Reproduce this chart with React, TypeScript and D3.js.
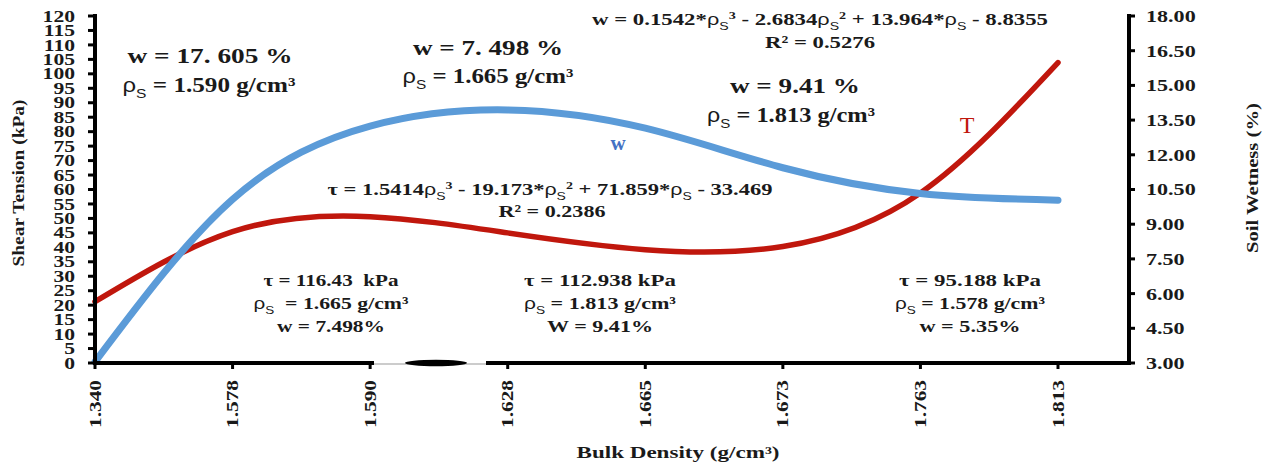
import React from 'react';
import * as d3 from 'd3';

const categories = ['1.340', '1.578', '1.590', '1.628', '1.665', '1.673', '1.763', '1.813'];
const shearTension = [21.2, 45.4, 50.6, 45.0, 39.2, 40.3, 58.8, 103.9];
const soilWetness = [3.05, 10.07, 13.24, 13.94, 13.15, 11.44, 10.33, 10.04];
const leftTicks = [0, 5, 10, 15, 20, 25, 30, 35, 40, 45, 50, 55, 60, 65, 70, 75, 80, 85, 90, 95, 100, 105, 110, 115, 120];
const rightTicks = [3, 4.5, 6, 7.5, 9, 10.5, 12, 13.5, 15, 16.5, 18];

const annotations = [
  { t: 'w = 17. 605 %', x: 210, y: 63, s: 21, w: 165 },
  { t: '{r} = 1.590 g/cm³', x: 209, y: 92, s: 21, w: 173 },
  { t: 'w = 7. 498 %', x: 488, y: 55, s: 21, w: 150 },
  { t: '{r} = 1.665 g/cm³', x: 488, y: 83, s: 21, w: 171 },
  { t: 'w = 9.41 %', x: 795, y: 93, s: 21, w: 130 },
  { t: '{r} = 1.813 g/cm³', x: 791, y: 122, s: 21, w: 168 },
  { t: 'w = 0.1542*{r}^3 - 2.6834{r}^2 + 13.964*{r} - 8.8355', x: 820, y: 25, s: 17, w: 456 },
  { t: 'R² = 0.5276', x: 820, y: 48, s: 17, w: 110 },
  { t: 'τ = 1.5414{r}^3 - 19.173*{r}^2 + 71.859*{r} - 33.469', x: 550, y: 195, s: 17, w: 445 },
  { t: 'R² = 0.2386', x: 552, y: 217, s: 17, w: 107 },
  { t: 'τ = 116.43  kPa', x: 331, y: 286, s: 17, w: 135 },
  { t: '{r}  = 1.665 g/cm³', x: 331, y: 309, s: 17, w: 155 },
  { t: 'w = 7.498%', x: 331, y: 332, s: 17, w: 108 },
  { t: 'τ = 112.938 kPa', x: 600, y: 286, s: 17, w: 152 },
  { t: '{r} = 1.813 g/cm³', x: 600, y: 309, s: 17, w: 152 },
  { t: 'W = 9.41%', x: 600, y: 332, s: 17, w: 106 },
  { t: 'τ = 95.188 kPa', x: 970, y: 286, s: 17, w: 142 },
  { t: '{r} = 1.578 g/cm³', x: 970, y: 309, s: 17, w: 150 },
  { t: 'w = 5.35%', x: 970, y: 332, s: 17, w: 101 },
];

const serif = "'Liberation Serif', 'Times New Roman', serif";
const sans = "'Liberation Sans', Arial, sans-serif";
const RED = '#c0170d';
const BLUE = '#5b9bd8';

type Seg = { k: string; t: string };
function parse(s: string): Seg[] {
  const out: Seg[] = [];
  let buf = '';
  let i = 0;
  const flush = () => { if (buf) { out.push({ k: 'n', t: buf }); buf = ''; } };
  while (i < s.length) {
    if (s.startsWith('{r}', i)) {
      flush();
      out.push({ k: 'rho', t: 'ρ' });
      out.push({ k: 'sub', t: 'S' });
      i += 3;
    } else if (s[i] === '^') {
      flush();
      out.push({ k: 'sup', t: s[i + 1] });
      i += 2;
    } else {
      buf += s[i];
      i++;
    }
  }
  flush();
  return out;
}

function Rich({ x, y, t, s, w, fill = '#1a1a1a' }: any) {
  const segs = parse(t);
  let shift = 0;
  const kids = segs.map((g, i) => {
    let target = 0;
    let fs = s;
    let fam = serif;
    let fw: any = 'bold';
    if (g.k === 'sub') { target = 0.28 * s; fs = s * 0.62; fam = sans; fw = 'normal'; }
    else if (g.k === 'sup') { target = -0.38 * s; fs = s * 0.62; }
    else if (g.k === 'rho') { fam = sans; fw = 'normal'; fs = s * 0.95; }
    const dy = target - shift;
    shift = target;
    return (
      <tspan key={i} dy={dy} fontSize={fs} fontFamily={fam} fontWeight={fw}>{g.t}</tspan>
    );
  });
  return (
    <text x={x} y={y} textAnchor="middle" fill={fill} textLength={w} lengthAdjust="spacingAndGlyphs"
      style={{ whiteSpace: 'pre' }}>
      {kids}
    </text>
  );
}

export default function App() {
  const W = 1264, H = 467;
  const X0 = 95, X1 = 1058, AXR = 1129, Y0 = 363, Y1 = 16;
  const x = d3.scalePoint<string>().domain(categories).range([X0, X1]);
  const yL = d3.scaleLinear().domain([0, 120]).range([Y0, Y1]);
  const yR = d3.scaleLinear().domain([3, 18]).range([Y0, Y1]);

  const tauLine = d3.line<number>()
    .x((_, i) => x(categories[i]) as number)
    .y(d => yL(d))
    .curve(d3.curveNatural);
  const wLine = d3.line<number>()
    .x((_, i) => x(categories[i]) as number)
    .y(d => yR(d))
    .curve(d3.curveNatural);

  return (
    <svg width={W} height={H} viewBox={`0 0 ${W} ${H}`}
      style={{ position: 'absolute', left: 0, top: 0, background: '#fff', display: 'block' }}>
      <rect x={0} y={0} width={W} height={H} fill="#fff" />

      {/* curves */}
      <path d={tauLine(shearTension) || ''} fill="none" stroke={RED} strokeWidth={5.5} strokeLinecap="round" />
      <path d={wLine(soilWetness) || ''} fill="none" stroke={BLUE} strokeWidth={7} strokeLinecap="round" />

      {/* left axis */}
      <line x1={X0} x2={X0} y1={yL(120) - 2} y2={Y0 + 2} stroke="#000" strokeWidth={4} />
      {leftTicks.map(v => (
        <g key={'lt' + v}>
          <line x1={X0 - 7} x2={X0} y1={yL(v)} y2={yL(v)} stroke="#000" strokeWidth={3} />
          <text transform={`translate(75,${yL(v)}) scale(1.35,1)`} textAnchor="end" dy="0.35em"
            fontFamily={serif} fontWeight="bold" fontSize={16} fill="#1a1a1a">{v}</text>
        </g>
      ))}

      {/* right axis */}
      <line x1={AXR} x2={AXR} y1={yR(18) - 2} y2={Y0 + 2} stroke="#000" strokeWidth={4} />
      {rightTicks.map(v => (
        <g key={'rt' + v}>
          <line x1={AXR} x2={AXR + 6} y1={yR(v)} y2={yR(v)} stroke="#000" strokeWidth={3} />
          <text transform={`translate(1146,${yR(v)}) scale(1.3,1)`} textAnchor="start" dy="0.35em"
            fontFamily={serif} fontWeight="bold" fontSize={17} fill="#1a1a1a">{v.toFixed(2)}</text>
        </g>
      ))}

      {/* x axis */}
      <line x1={X0 - 2} x2={AXR + 2} y1={Y0} y2={Y0} stroke="#000" strokeWidth={4} />
      {categories.map(c => (
        <g key={'xt' + c}>
          <line x1={x(c)} x2={x(c)} y1={Y0} y2={Y0 + 6} stroke="#000" strokeWidth={3} />
          <text transform={`translate(${x(c)},380) rotate(-90)`} textAnchor="end" dominantBaseline="central"
            fontFamily={serif} fontWeight="bold" fontSize={17} fill="#1a1a1a"
            textLength={48} lengthAdjust="spacingAndGlyphs">{c}</text>
        </g>
      ))}
      {/* artifact on the x axis */}
      <rect x={374} y={358} width={112} height={9} fill="#fff" />
      <line x1={374} x2={486} y1={364} y2={364} stroke="#999" strokeWidth={1} />
      <ellipse cx={436} cy={363} rx={31} ry={3.2} fill="#000" />

      {/* axis titles */}
      <text transform="translate(18,183) rotate(-90)" textAnchor="middle" dominantBaseline="central"
        fontFamily={serif} fontWeight="bold" fontSize={16} fill="#1a1a1a"
        textLength={167} lengthAdjust="spacingAndGlyphs">Shear Tension (kPa)</text>
      <text transform="translate(1252,178) rotate(-90)" textAnchor="middle" dominantBaseline="central"
        fontFamily={serif} fontWeight="bold" fontSize={16} fill="#1a1a1a"
        textLength={150} lengthAdjust="spacingAndGlyphs">Soil Wetness (%)</text>
      <text x={678} y={458} textAnchor="middle" fontFamily={serif} fontWeight="bold" fontSize={16}
        fill="#1a1a1a" textLength={203} lengthAdjust="spacingAndGlyphs">Bulk Density (g/cm³)</text>

      {/* annotations */}
      {annotations.map((a, i) => <Rich key={'an' + i} {...a} />)}

      {/* series labels */}
      <text x={618} y={150} textAnchor="middle" fontFamily={serif} fontWeight="bold" fontSize={21}
        fill="#4472c4">w</text>
      <text x={967} y={133} textAnchor="middle" fontFamily={serif} fontSize={24} fill={RED}>T</text>
    </svg>
  );
}
